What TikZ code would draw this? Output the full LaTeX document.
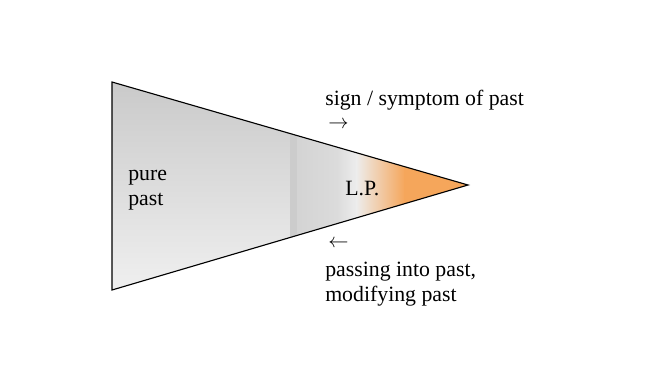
\documentclass[tikz,border=0pt]{standalone}
\usepackage{fontspec}
\setmainfont{Liberation Serif}
\usepackage{tikz}
\usetikzlibrary{positioning}
\definecolor{lporange}{HTML}{F5A65B}

\begin{document}
\begin{tikzpicture}[
  x=0.025cm, y=-0.025cm,
  font=\fontsize{15.5}{17.5}\selectfont,
  cone/.style={draw=black, line width=0.8pt, line join=miter},
  txt/.style={inner sep=0pt, anchor=west, align=left}
]
\useasboundingbox (0,0) rectangle (650,389);
% corners of the cone
\coordinate (top) at (112,82);
\coordinate (bot) at (112,290);
\coordinate (tip) at (468,185);
% fill: grey past, orange tip
\begin{scope}
  \clip (top) -- (tip) -- (bot) -- cycle;
  \shade[top color=gray!42, bottom color=gray!12] (100,80) rectangle (291,292);
  \fill[gray!40] (290,80) rectangle (298,292);
  \shade[left color=gray!34, right color=gray!28] (297,80) rectangle (338,292);
  \shade[left color=gray!28, right color=gray!14] (337,80) rectangle (357,292);
  \shade[left color=gray!14, right color=lporange] (356,80) rectangle (405,292);
  \fill[lporange] (404,80) rectangle (470,292);
\end{scope}
\draw[cone] (top) -- (tip) -- (bot) -- cycle;
% labels
\node[txt] (sign) at (325,100) {sign / symptom of past};
\node[txt] (fwd) at (328,125) {$\rightarrow$};
\node[txt] (pure) at (128,190) {pure\\past};
\node[txt] (lp) at (345,189) {L.P.};
\node[txt] (back) at (328,244) {$\leftarrow$};
\node[txt] (passing) at (325,284) {passing into past,\\modifying past};
\end{tikzpicture}
\end{document}
